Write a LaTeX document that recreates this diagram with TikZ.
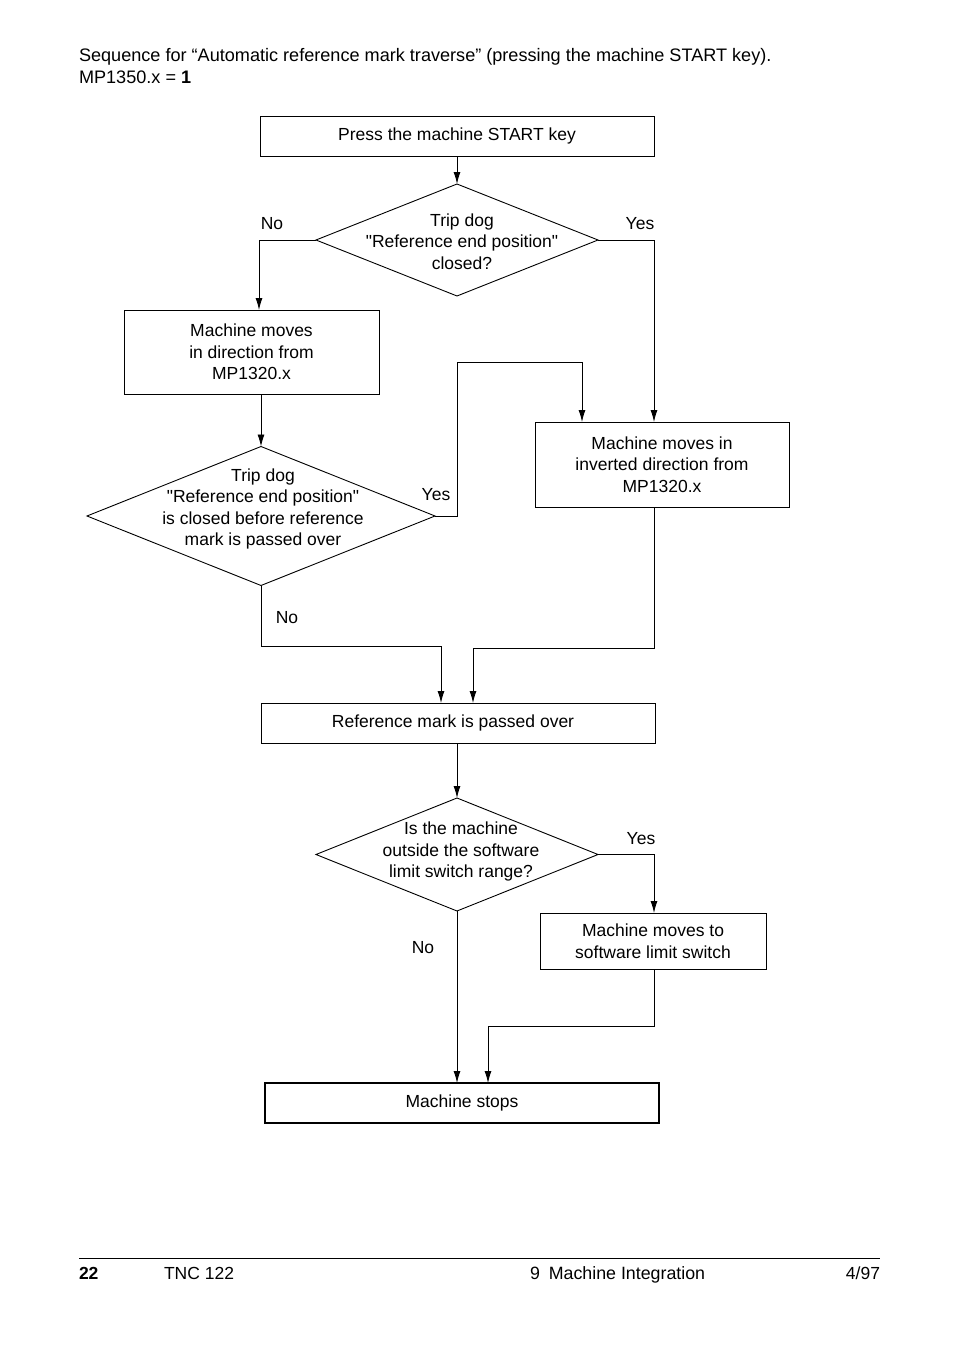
\documentclass[tikz,border=0pt]{standalone}
\usepackage{fontspec}
\setmainfont{Liberation Sans}
\usetikzlibrary{shapes.geometric,arrows.meta}

\begin{document}
\begin{tikzpicture}
            [x=1pt, y=-1pt, ->, >={Latex[length=12pt,width=7pt]}, line width=0.9pt,
             every node/.style={font=\fontsize{17.5}{21.5}\selectfont, inner sep=0pt, outer sep=0pt},
             stepbox/.style={draw=black, align=center, minimum height=40pt},
             decision/.style={shape=diamond, draw=black},
             txt/.style={align=center}]
            \useasboundingbox (0,0) rectangle (954,1346);
            \node[anchor=base west,font=\fontsize{18.1}{22}\selectfont] (title) at (79,62) {Sequence for “Automatic reference mark traverse” (pressing the machine START key).};
            \node[anchor=base west,font=\fontsize{18.1}{22}\selectfont] (mp) at (79,84) {MP1350.x = \textbf{1}};

            \node[stepbox,minimum width=394pt] (start) at (457,136) {Press the machine START key};
            \node[decision,minimum width=282pt,minimum height=112pt] (d1) at (457,240) {};
            \node[txt] (d1text) at (462,241.5) {Trip dog\\\textquotedbl Reference end position\textquotedbl\\closed?};
            \node[stepbox,minimum width=255pt,minimum height=84pt] (b2) at (251.5,352) {Machine moves\\in direction from\\MP1320.x};
            \node[decision,minimum width=348pt,minimum height=139pt] (d2) at (261,516) {};
            \node[txt] (d2text) at (263,509) {Trip dog\\\textquotedbl Reference end position\textquotedbl\\is closed before reference\\mark is passed over};
            \node[stepbox,minimum width=254pt,minimum height=85pt] (b3) at (662,464.5) {Machine moves in\\inverted direction from\\MP1320.x};
            \node[stepbox,minimum width=394pt] (b4) at (458,723) {\hspace*{-10pt}Reference mark is passed over};
            \node[decision,minimum width=282pt,minimum height=113pt] (d3) at (457,854.5) {};
            \node[txt] (d3text) at (461,851.5) {Is the machine\\outside the software\\limit switch range?};
            \node[stepbox,minimum width=226pt,minimum height=56pt] (b5) at (653,941) {Machine moves to\\software limit switch};
            \node[stepbox,minimum width=394pt,line width=2pt] (stop) at (462,1103) {Machine stops};

            \node (no1) at (272,224) {No};
            \node (yes1) at (640,224) {Yes};
            \node (yes2) at (436,495) {Yes};
            \node (no2) at (287,618) {No};
            \node (yes3) at (641,839) {Yes};
            \node (no3) at (423,948) {No};

            \path [->] (start) edge node {} (d1);
            \draw [->] (d1.west) -| ([xshift=7.5pt]b2.north);
            \draw [->] (d1.east) -| ([xshift=-8pt]b3.north);
            \draw [->] (b2.south -| d2.north) -- (d2.north);
            \draw [->] (d2.east) -- ++(22,0) -- ++(0,-154) -| ([xshift=-80pt]b3.north);
            \draw [->] (d2.south) -- ++(0,61) -| ([xshift=-17pt]b4.north);
            \draw [->] ([xshift=-8pt]b3.south) -- ++(0,141) -| ([xshift=15pt]b4.north);
            \draw [->] (b4.south -| d3.north) -- (d3.north);
            \draw [->] (d3.east) -| ([xshift=1pt]b5.north);
            \draw [->] (d3.south) -- (d3.south |- stop.north);
            \draw [->] ([xshift=1pt]b5.south) -- ++(0,57) -| ([xshift=26pt]stop.north);

            \draw [-] (79,1258) -- (880,1258);
            \node[anchor=base west] (page) at (79,1279) {\bfseries 22};
            \node[anchor=base west] (model) at (164,1279) {TNC 122};
            \node[anchor=base west,font=\fontsize{17.8}{21.5}\selectfont] (chapter) at (530,1279) {9\enspace Machine Integration};
            \node[anchor=base east] (date) at (880,1279) {4/97};
        \end{tikzpicture}
\end{document}
